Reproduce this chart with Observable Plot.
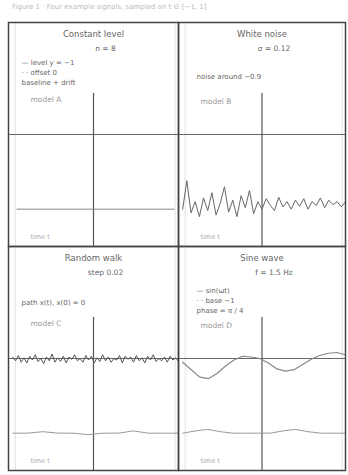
<!DOCTYPE html>
<html><head><meta charset="utf-8">
<script src="https://cdn.jsdelivr.net/npm/d3@7"></script>
<script src="https://cdn.jsdelivr.net/npm/@observablehq/plot@0.6"></script>
<style>
body{margin:0;background:#fff;font-family:"DejaVu Sans",sans-serif}
#wrap{position:relative;width:348px;height:475px;overflow:hidden}
.p{position:absolute}
#head{position:absolute;left:12px;top:3px;font-size:7px;color:#bbb;white-space:nowrap}
</style></head><body>
<div id="wrap"><div id="head">Figure 1 · Four example signals, sampled on t ∈ [−1, 1]</div></div>
<script>
// ---- data ----
const titles = ["Constant level", "White noise", "Random walk", "Sine wave"];
const subtitles = ["n = 8", "σ = 0.12", "step 0.02", "f = 1.5 Hz"];
const legends = [
  ["— level y = −1", "· · offset 0", "baseline + drift"],
  ["noise around −0.9"],
  ["path x(t), x(0) = 0"],
  ["— sin(ωt)", "· · base −1", "phase = π / 4"]
];
const badges = ["model A", "model B", "model C", "model D"];
const axisLabels = ["time t", "time t", "time t", "time t"];

const constantLevel = [-1, -1, -1, -1, -1, -1, -1, -1];
const whiteNoise = [-1.0,-0.62,-1.05,-0.9,-1.1,-0.85,-1.02,-0.78,-1.08,-0.92,-0.7,-1.04,-0.88,-1.1,-0.82,-0.98,-0.75,-1.06,-0.9,-1.0,-0.86,-0.95,-1.02,-0.84,-0.97,-0.9,-1.0,-0.88,-0.96,-0.86,-1.0,-0.9,-0.95,-0.85,-0.98,-0.88,-0.94,-0.9,-0.97,-0.9];
const randomWalk = [0.02,-0.03,0.04,-0.05,0.01,-0.06,0.03,-0.02,0.05,-0.04,0.0,-0.07,0.02,-0.03,0.06,-0.05,0.01,-0.04,0.03,-0.06,0.02,-0.01,0.05,-0.03,0.0,-0.05,0.04,-0.02,0.03,-0.06,0.01,-0.04,0.05,-0.03,0.02,-0.05,0.0,-0.02,0.04,-0.06,0.03,-0.01,0.02,-0.05,0.04,-0.03,0.01,-0.06,0.03,-0.02,0.05,-0.04,0.0,-0.03,0.02,-0.05,0.03,-0.02,0.01,-0.04];
const walkBase = [-1,-1,-0.98,-1,-1,-1.02,-1,-1,-0.97,-1,-1,-1];
const sineWave = [-0.05,-0.15,-0.25,-0.27,-0.2,-0.1,-0.02,0.03,0.02,0.0,-0.06,-0.14,-0.17,-0.15,-0.08,-0.01,0.04,0.07,0.08,0.05];
const sineBase = [-1,-0.97,-0.95,-0.98,-1,-1,-1,-1,-0.97,-0.95,-0.98,-1,-1,-1];

const seriesByPanel = [
  [{values: constantLevel, span: [-0.9, 0.95], stroke: "#888", width: 1}],
  [{values: whiteNoise, span: [-0.95, 1.0], stroke: "#666", width: 1}],
  [{values: randomWalk, span: [-0.95, 1.0], stroke: "#555", width: 1},
   {values: walkBase, span: [-0.95, 1.0], stroke: "#999", width: 1}],
  [{values: sineWave, span: [-0.95, 1.0], stroke: "#888", width: 1.2},
   {values: sineBase, span: [-0.95, 1.0], stroke: "#999", width: 1}]
];

// ---- layout ----
const boxes = [
  {left: 8, top: 22, width: 170, legendTop: 38, legendDx: 13},
  {left: 178, top: 22, width: 167, legendTop: 52, legendDx: 18},
  {left: 8, top: 246, width: 170, legendTop: 54, legendDx: 13},
  {left: 178, top: 246, width: 167, legendTop: 42, legendDx: 18}
];
const H = 224;

function toRows(s) {
  const n = s.values.length, [a, b] = s.span;
  return s.values.map((v, i) => ({t: a + (b - a) * i / (n - 1), v}));
}

const wrap = document.getElementById("wrap");
boxes.forEach((b, k) => {
  const marks = [
    Plot.ruleX([-0.92, 0.96], {stroke: "#e2e2e2"}),
    Plot.ruleY([0], {stroke: "#666", strokeWidth: 1.2}),
    Plot.ruleX([0], {y1: -1.5, y2: 0.55, stroke: "#555", strokeWidth: 1.2}),
    ...seriesByPanel[k].map(s => Plot.line(toRows(s), {x: "t", y: "v", stroke: s.stroke, strokeWidth: s.width})),
    Plot.text([titles[k]], {frameAnchor: "top", dy: 8, fontSize: 8.5, fill: "#666"}),
    Plot.text([subtitles[k]], {frameAnchor: "top", dy: 23, dx: 12, fontSize: 7.5, fill: "#666"}),
    ...legends[k].map((line, i) =>
      Plot.text([line], {frameAnchor: "top-left", dx: b.legendDx, dy: b.legendTop + i * 10,
        fontSize: 7, fill: "#666", textAnchor: "start"})),
    Plot.text([badges[k]], {frameAnchor: "top-left", dx: 22, dy: k % 2 ? 76 : 74, fontSize: 7.5, fill: "#999", textAnchor: "start"}),
    Plot.text([axisLabels[k]], {frameAnchor: "bottom-left", dx: 22, dy: -8, fontSize: 6.5, fill: "#aaa", textAnchor: "start"}),
    Plot.frame({stroke: "#444", strokeWidth: 1.5})
  ];
  const svg = Plot.plot({
    width: b.width, height: H,
    margin: 0,
    x: {domain: [-1, 1], axis: null},
    y: {domain: [-1.5, 1.5], axis: null},
    style: {fontFamily: "DejaVu Sans, sans-serif", background: "transparent", overflow: "visible"},
    marks
  });
  svg.classList.add("p");
  svg.style.left = b.left + "px";
  svg.style.top = b.top + "px";
  wrap.appendChild(svg);
});
</script></body></html>
